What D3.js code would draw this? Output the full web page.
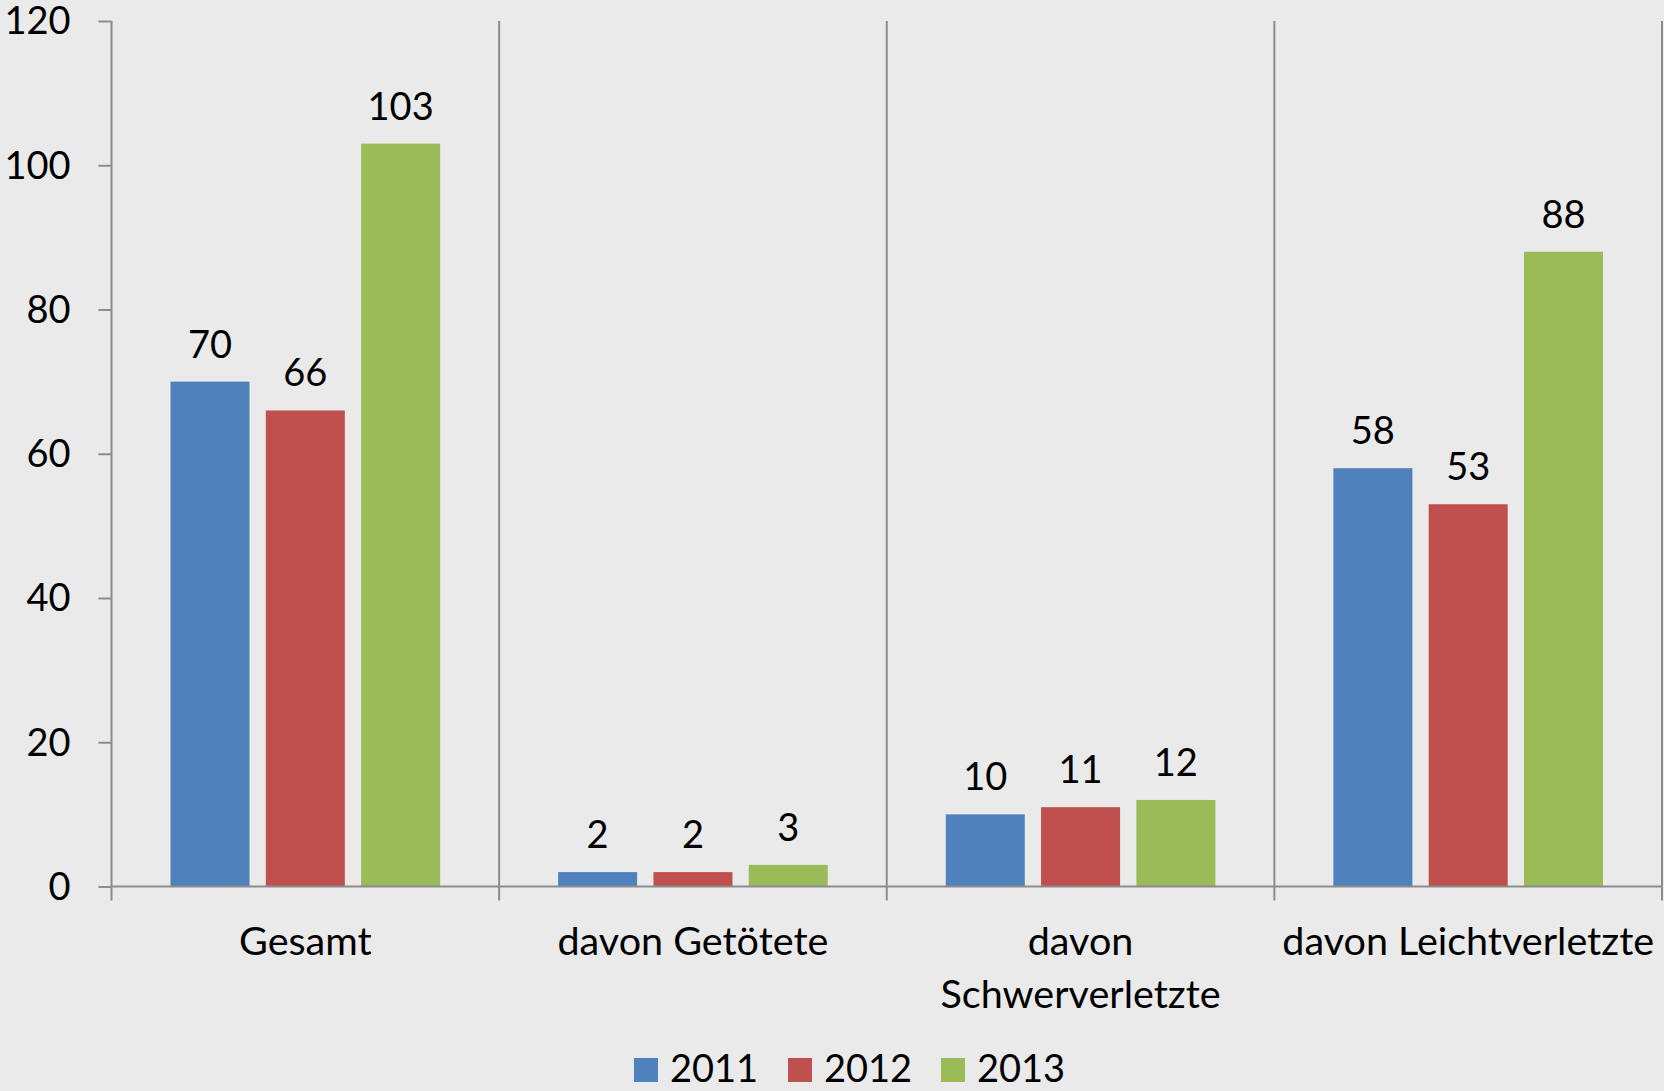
<!DOCTYPE html>
<html>
<head>
<meta charset="utf-8">
<script src="https://cdn.jsdelivr.net/npm/d3@7"></script>
<style>
  html, body { margin: 0; padding: 0; background: #EAEAEA; }
  svg { display: block; }
  text { font-family: Lato, "Open Sans", sans-serif; fill: #000; }
</style>
</head>
<body>
<script>
const categories = ["Gesamt", "davon Getötete", "davon Schwerverletzte", "davon Leichtverletzte"];
const categoryLines = [["Gesamt"], ["davon Getötete"], ["davon", "Schwerverletzte"], ["davon Leichtverletzte"]];
const seriesNames = ["2011", "2012", "2013"];
const values2011 = [70, 2, 10, 58];
const values2012 = [66, 2, 11, 53];
const values2013 = [103, 3, 12, 88];
const yTicks = [0, 20, 40, 60, 80, 100, 120];
const colors = ["#4F81BD", "#C0504D", "#9BBB59"];

const seriesValues = [values2011, values2012, values2013];
const W = 1664, H = 1091;
const plotLeft = 111.5, plotRight = 1662, plotTop = 21, plotBottom = 886.5;
const fontSize = 38;
const catFontSize = 39.5;

const svg = d3.select("body").append("svg").attr("width", W).attr("height", H);
svg.append("rect").attr("width", W).attr("height", H).attr("fill", "#EAEAEA");

const y = d3.scaleLinear().domain([0, 120]).range([plotBottom, plotTop]);
const x0 = d3.scaleBand().domain(categories).range([plotLeft, plotRight]).padding(0);
const catW = x0.bandwidth();
const outer = 59;
const x1 = d3.scaleBand().domain(seriesNames).range([outer, catW - outer]).paddingInner(0.171).paddingOuter(0);

// vertical gridlines at category boundaries
const boundaries = categories.map(c => x0(c)).slice(1).concat([plotRight]);
svg.append("g").selectAll("line").data(boundaries).join("line")
  .attr("x1", d => d).attr("x2", d => d)
  .attr("y1", plotTop).attr("y2", plotBottom)
  .attr("stroke", "#8C8C8C").attr("stroke-width", 2);

// bars
const rows = [];
categories.forEach((c, i) => seriesNames.forEach((s, j) => rows.push({c, s, j, v: seriesValues[j][i]})));

svg.append("g").selectAll("rect").data(rows).join("rect")
  .attr("x", d => x0(d.c) + x1(d.s))
  .attr("width", x1.bandwidth())
  .attr("y", d => y(d.v))
  .attr("height", d => y(0) - y(d.v))
  .attr("fill", d => colors[d.j]);

svg.append("g").selectAll("text").data(rows).join("text")
  .attr("x", d => x0(d.c) + x1(d.s) + x1.bandwidth() / 2)
  .attr("y", d => y(d.v) - 24)
  .attr("text-anchor", "middle")
  .attr("font-size", fontSize)
  .text(d => d.v);

// y axis
const yAxis = d3.axisLeft(y).tickValues(yTicks).tickSize(13).tickPadding(28);
const gy = svg.append("g").attr("transform", `translate(${plotLeft},0)`).call(yAxis);
gy.select(".domain").attr("stroke", "#8C8C8C").attr("stroke-width", 2).attr("d", `M0,${plotTop}V${plotBottom}`);
gy.selectAll(".tick line").attr("stroke", "#8C8C8C").attr("stroke-width", 2);
gy.selectAll(".tick text").attr("font-size", fontSize).attr("font-family", "Lato, 'Open Sans', sans-serif").attr("fill", "#000").attr("dy", "0.34em");

// x axis
const gx = svg.append("g").attr("transform", `translate(0,${plotBottom})`);
gx.append("line").attr("x1", plotLeft).attr("x2", plotRight).attr("y1", 0).attr("y2", 0)
  .attr("stroke", "#8C8C8C").attr("stroke-width", 2);
gx.selectAll("line.tk").data(categories.map(c => x0(c)).concat([plotRight])).join("line")
  .attr("class", "tk")
  .attr("x1", d => d).attr("x2", d => d).attr("y1", 0).attr("y2", 14)
  .attr("stroke", "#8C8C8C").attr("stroke-width", 2);

categories.forEach((c, i) => {
  const t = gx.append("text")
    .attr("x", x0(c) + catW / 2)
    .attr("y", 68)
    .attr("text-anchor", "middle")
    .attr("font-size", catFontSize);
  categoryLines[i].forEach((ln, k) => {
    t.append("tspan").attr("x", x0(c) + catW / 2).attr("dy", k === 0 ? 0 : 53).text(ln);
  });
});

// legend
const legendX = [634, 788, 941];
const lg = svg.append("g");
seriesNames.forEach((s, j) => {
  lg.append("rect").attr("x", legendX[j]).attr("y", 1058).attr("width", 24).attr("height", 24).attr("fill", colors[j]);
  lg.append("text").attr("x", legendX[j] + 36).attr("y", 1082).attr("font-size", fontSize).text(s);
});
</script>
</body>
</html>
